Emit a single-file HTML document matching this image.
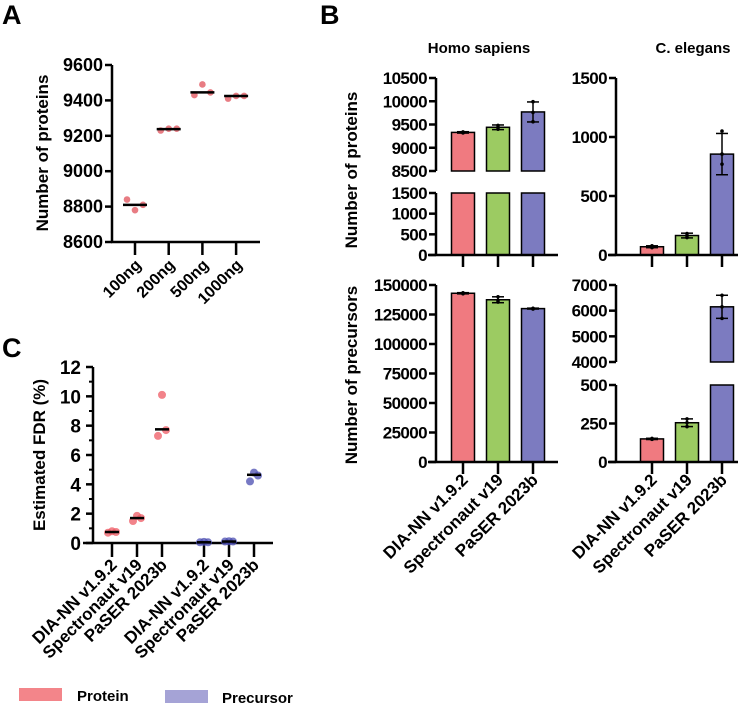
<!DOCTYPE html>
<html><head><meta charset="utf-8"><style>
html,body{margin:0;padding:0;background:#fff}
svg{display:block;font-family:"Liberation Sans",Arial,sans-serif;font-weight:bold}
</style></head><body>
<svg id="fig" width="752" height="708" viewBox="0 0 752 708" xmlns="http://www.w3.org/2000/svg"></svg>
<script>
// Panel A data
const aCats=["100ng","200ng","500ng","1000ng"];
const aPoints=[[8840,8780,8810],[9230,9240,9240],[9430,9490,9445],[9410,9425,9425]];
const aMedians=[8810,9238,9445,9425];
const aTicks=[8600,8800,9000,9200,9400,9600];
// Panel B data
const bCats=["DIA-NN v1.9.2","Spectronaut v19","PaSER 2023b"];
const hsProt=[9330,9440,9770];
const hsProtErr=[15,50,215];
const hsProtPts=[[9320,9330,9340],[9400,9440,9480],[9560,9760,9990]];
const ceProt=[70,165,855];
const ceProtErr=[8,20,175];
const ceProtPts=[[62,70,78],[148,165,182],[770,855,1050]];
const hsPrec=[143000,137500,130000];
const hsPrecErr=[500,2500,400];
const hsPrecPts=[[142600,143000,143400],[135500,137000,140000],[129700,130000,130300]];
const cePrec=[150,255,6150];
const cePrecErr=[4,25,450];
const cePrecPts=[[147,150,153],[230,255,280],[5700,6150,6600]];
const hsProtTopTicks=[8500,9000,9500,10000,10500];
const hsProtBotTicks=[0,500,1000,1500];
const ceProtTicks=[0,500,1000,1500];
const hsPrecTicks=[0,25000,50000,75000,100000,125000,150000];
const cePrecTopTicks=[4000,5000,6000,7000];
const cePrecBotTicks=[0,250,500];
// Panel C data
const cCats=["DIA-NN v1.9.2","Spectronaut v19","PaSER 2023b","DIA-NN v1.9.2","Spectronaut v19","PaSER 2023b"];
const cPoints=[[0.7,0.8,0.75],[1.5,1.85,1.7],[7.3,10.1,7.7],[0.05,0.08,0.05],[0.1,0.12,0.1],[4.2,4.8,4.6]];
const cMedians=[0.75,1.7,7.75,0.05,0.1,4.65];
const cTicks=[0,2,4,6,8,10,12];

const svg=document.getElementById('fig');
const NS='http://www.w3.org/2000/svg';
function mk(tag,attrs,parent,text){const e=document.createElementNS(NS,tag);for(const k in attrs)e.setAttribute(k,attrs[k]);if(text!==undefined)e.textContent=text;(parent||svg).appendChild(e);return e;}
function lin(d0,d1,r0,r1){return v=>r0+(v-d0)*(r1-r0)/(d1-d0);}
const RED='#f07a80',GREEN='#9ccb62',BLUE='#7c7bc0';
const colors=[RED,GREEN,BLUE];

function text(x,y,s,size,anchor,name,rot,ls){const t=mk('text',{x:x,y:y,'font-size':size,'text-anchor':anchor||'start',fill:'#000'},svg,s);if(ls)t.setAttribute('letter-spacing',ls);if(rot)t.setAttribute('transform','rotate('+rot+' '+x+' '+y+')');return t;}
function line(x1,y1,x2,y2,w,name,col){const l=mk('line',{x1:x1,y1:y1,x2:x2,y2:y2,stroke:col||'#000','stroke-width':w||2.5});return l;}
function yaxis(x,yTop,yBot,ticks,sc,fs,name,ls){line(x,yTop,x,yBot,2.5,name+'-line');ticks.forEach(v=>{const y=sc(v);line(x-7,y,x,y,2.5,name+'-tick');text(x-9,y+6,String(v),fs,'end',name+'-label',0,ls);});}

// Panel labels
text(2,24,'A',27,'start','panel-label-a');
text(320,24,'B',27,'start','panel-label-b');
text(2,357,'C',27,'start','panel-label-c');

// ---- Panel A ----
(function(){
const sy=lin(8600,9600,242,65);
const xs=i=>135+i*33.7;
yaxis(112,65,242,aTicks,sy,18,'a-y-axis');
line(111,242,260,242,2.5,'a-x-axis');
text(48,153,'Number of proteins',17,'middle','a-y-axis-title',-90);
aCats.forEach((c,i)=>{const x=xs(i);line(x,242,x,255,2.5,'a-x-tick');text(x+7,266,c,16,'end','a-x-label',-45);
 const offs=[-8,0,8];
 aPoints[i].forEach((v,j)=>{const p=mk('circle',{cx:x+offs[j],cy:sy(v),r:3.3,fill:'#e0505a','fill-opacity':0.75});});
 line(x-12,sy(aMedians[i]),x+12,sy(aMedians[i]),2.5,'a-median');});
})();

// ---- Panel B ----
function barPanel(o){
 const {ax,xs,segs,vals,errs,pts,name}=o;
 segs.forEach(s=>{yaxis(ax,s.r1,s.r0,s.ticks,s.sc,17,name+'-y-axis','-0.6');});
 const base=segs[0];
 vals.forEach((v,i)=>{const x=xs[i];
  segs.forEach(s=>{const top=Math.min(v,s.d1);if(v<=s.d0&&s!==base)return;const y0=s===base?s.sc(0):s.r0;const yt=s.sc(Math.max(top,s.d0));
   const r=mk('rect',{x:x-11.5,y:yt,width:23,height:y0-yt,fill:colors[i],stroke:'#000','stroke-width':1.5});});
  const s=segs.find(s=>v>=s.d0&&v<=s.d1)||base;
  const yl=s.sc(v-errs[i]),yh=s.sc(v+errs[i]);
  line(x,yl,x,yh,1.5,name+'-error-bar');line(x-6,yh,x+6,yh,1.5,name+'-error-cap');line(x-6,yl,x+6,yl,1.5,name+'-error-cap');
  pts[i].forEach(p=>{const c=mk('circle',{cx:x,cy:s.sc(Math.max(s.d0,Math.min(s.d1,p))),r:1.8,fill:'#000'});});
 });
 line(ax-8,base.r0,ax+122,base.r0,2.5,name+'-x-axis');
 xs.forEach(x=>line(x,base.r0,x,base.r0+12,2.5,name+'-x-tick'));
 if(o.labels) xs.forEach((x,i)=>text(x+6,base.r0+19,bCats[i],17,'end',name+'-x-label',-45));
}
const hsX=[463,498,533],ceX=[652,687,722];
barPanel({name:'hs-prot',ax:436,xs:hsX,vals:hsProt,errs:hsProtErr,pts:hsProtPts,segs:[
 {d0:0,d1:1500,r0:255,r1:193,ticks:hsProtBotTicks,sc:lin(0,1500,255,193)},
 {d0:8500,d1:10500,r0:171,r1:78,ticks:hsProtTopTicks,sc:lin(8500,10500,171,78)}]});
barPanel({name:'ce-prot',ax:616,xs:ceX,vals:ceProt,errs:ceProtErr,pts:ceProtPts,segs:[
 {d0:0,d1:1500,r0:255,r1:78,ticks:ceProtTicks,sc:lin(0,1500,255,78)}]});
barPanel({name:'hs-prec',ax:436,xs:hsX,vals:hsPrec,errs:hsPrecErr,pts:hsPrecPts,labels:true,segs:[
 {d0:0,d1:150000,r0:462,r1:285,ticks:hsPrecTicks,sc:lin(0,150000,462,285)}]});
barPanel({name:'ce-prec',ax:616,xs:ceX,vals:cePrec,errs:cePrecErr,pts:cePrecPts,labels:true,segs:[
 {d0:0,d1:500,r0:462,r1:385,ticks:cePrecBotTicks,sc:lin(0,500,462,385)},
 {d0:4000,d1:7000,r0:362,r1:285,ticks:cePrecTopTicks,sc:lin(4000,7000,362,285)}]});
text(479,53,'Homo sapiens',15,'middle','homo-sapiens-title');
text(693,53,'C. elegans',15,'middle','c-elegans-title');
text(357,170,'Number of proteins',17,'middle','b-proteins-y-title',-90);
text(357,375,'Number of precursors',17,'middle','b-precursors-y-title',-90);

// ---- Panel C ----
(function(){
const sy=lin(0,12,543,367);
const xs=[112,137,162,204,229,254];
line(93,367,93,543,2.5,'c-y-axis-line');
cTicks.forEach(v=>{line(86,sy(v),93,sy(v),2.5,'c-y-tick');text(81,sy(v)+7,String(v),19,'end','c-y-label');});
[1,3,5,7,9,11].forEach(v=>line(89,sy(v),93,sy(v),2,'c-y-minor-tick'));
line(83,543,273,543,2.5,'c-x-axis');
text(45,455,'Estimated FDR (%)',17,'middle','c-y-axis-title',-90);
cCats.forEach((c,i)=>{const x=xs[i];const col=i<3?'#ee5a63':'#4a4cb0';
 line(x,543,x,557,2.5,'c-x-tick');text(x+6,566,c,17,'end','c-x-label',-45);
 const offs=[-4,0,4];
 cPoints[i].forEach((v,j)=>{const p=mk('circle',{cx:x+offs[j],cy:sy(v),r:4,fill:col,'fill-opacity':0.75});});
 line(x-7,sy(cMedians[i]),x+7,sy(cMedians[i]),2.5,'c-median');});
// legend
const r1=mk('rect',{x:19,y:688,width:43,height:13,fill:'#f3858a'});
text(77,701,'Protein',15,'start','legend-protein-label');
const r2=mk('rect',{x:165,y:690,width:43,height:13,fill:'#a5a3d6'});
text(222,703,'Precursor',15,'start','legend-precursor-label');
})();
</script>
</body></html>
